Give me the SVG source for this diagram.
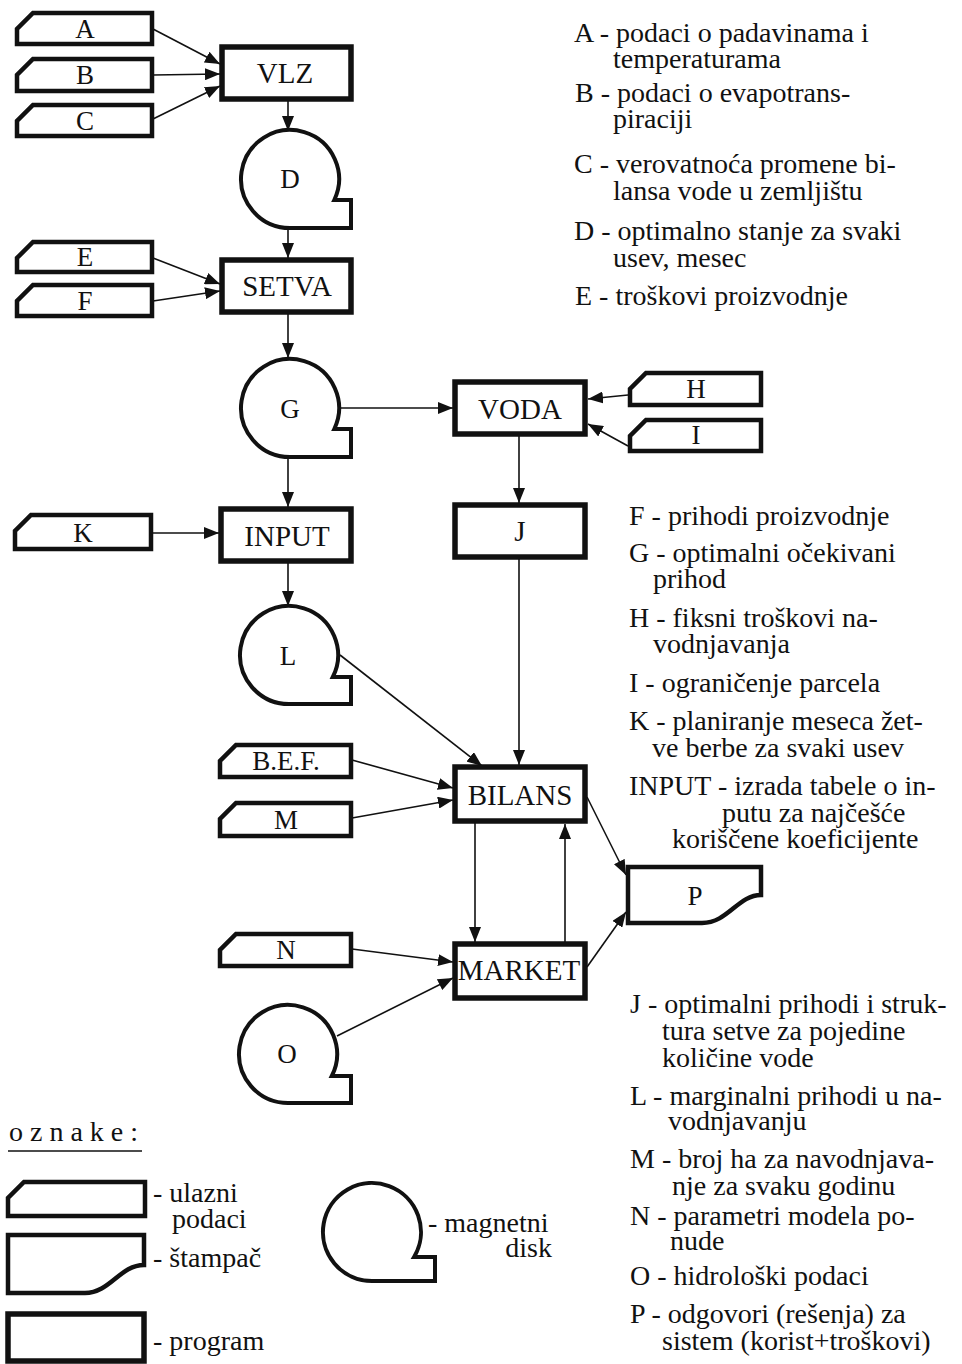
<svg xmlns="http://www.w3.org/2000/svg" width="962" height="1364" viewBox="0 0 962 1364">
<style>
.card{fill:#fff;stroke:#111;stroke-width:4.5;stroke-linejoin:miter}
.prog{fill:#fff;stroke:#111;stroke-width:5.5}
.disk{fill:#fff;stroke:#111;stroke-width:4}
.prt{fill:#fff;stroke:#111;stroke-width:4.5}
.con{fill:none;stroke:#111;stroke-width:1.6;marker-end:url(#ah)}
text{font-family:"Liberation Serif","Times New Roman",serif;fill:#111}
.lbl{font-size:27px;text-anchor:middle}
.plbl{font-size:29px;text-anchor:middle}
.note{font-size:28px}
</style>
<defs>
<marker id="ah" viewBox="0 0 15 12" refX="15" refY="6" markerWidth="15" markerHeight="12" markerUnits="userSpaceOnUse" orient="auto">
<path d="M0,0 L15,6 L0,12 Z" fill="#111"/>
</marker>
</defs>
<rect width="962" height="1364" fill="#fff"/>

<g id="connectors">
<line class="con" x1="153" y1="29" x2="220" y2="64"/>
<line class="con" x1="153" y1="75" x2="220" y2="74"/>
<line class="con" x1="153" y1="119" x2="220" y2="86"/>
<line class="con" x1="288" y1="100" x2="288" y2="131"/>
<line class="con" x1="288" y1="229" x2="288" y2="258"/>
<line class="con" x1="153" y1="258" x2="220" y2="284"/>
<line class="con" x1="153" y1="301" x2="220" y2="291"/>
<line class="con" x1="288" y1="313" x2="288" y2="358"/>
<line class="con" x1="340" y1="408" x2="453" y2="408"/>
<line class="con" x1="628" y1="395" x2="588" y2="399"/>
<line class="con" x1="628" y1="446" x2="588" y2="424"/>
<line class="con" x1="519" y1="435" x2="519" y2="503"/>
<line class="con" x1="288" y1="458" x2="288" y2="507"/>
<line class="con" x1="152" y1="533" x2="219" y2="533"/>
<line class="con" x1="288" y1="562" x2="288" y2="606"/>
<line class="con" x1="340" y1="655" x2="482" y2="766"/>
<line class="con" x1="519" y1="558" x2="519" y2="765"/>
<line class="con" x1="352" y1="760" x2="453" y2="788"/>
<line class="con" x1="352" y1="818" x2="453" y2="800"/>
<line class="con" x1="475" y1="823" x2="475" y2="942"/>
<line class="con" x1="565" y1="943" x2="565" y2="824"/>
<line class="con" x1="587" y1="797" x2="626" y2="875"/>
<line class="con" x1="587" y1="967" x2="626" y2="912"/>
<line class="con" x1="352" y1="949" x2="453" y2="962"/>
<line class="con" x1="337" y1="1036" x2="453" y2="978"/>
</g>

<g id="node-A"><path class="card" d="M33,13 H152 V44 H17 V29 Z"/><text class="lbl" x="85" y="38">A</text></g>
<g id="node-B"><path class="card" d="M33,59 H152 V91 H17 V75 Z"/><text class="lbl" x="85" y="84">B</text></g>
<g id="node-C"><path class="card" d="M33,105 H152 V136 H17 V121 Z"/><text class="lbl" x="85" y="130">C</text></g>
<g id="node-VLZ"><rect class="prog" x="222" y="47" width="129" height="52"/><text class="plbl" x="285" y="83">VLZ</text></g>
<g id="node-D"><path class="disk" d="M290,228 A49,49 0 1 1 334.3,200 H351 V228 Z"/><text class="lbl" x="290" y="188">D</text></g>
<g id="node-E"><path class="card" d="M33,242 H152 V272 H17 V258 Z"/><text class="lbl" x="85" y="266">E</text></g>
<g id="node-F"><path class="card" d="M33,285 H152 V316 H17 V301 Z"/><text class="lbl" x="85" y="310">F</text></g>
<g id="node-SETVA"><rect class="prog" x="222" y="260" width="129" height="52"/><text class="plbl" x="287" y="296">SETVA</text></g>
<g id="node-G"><path class="disk" d="M290,457 A49,49 0 1 1 334.3,429 H351 V457 Z"/><text class="lbl" x="290" y="418">G</text></g>
<g id="node-VODA"><rect class="prog" x="455" y="382" width="130" height="52"/><text class="plbl" x="520" y="419">VODA</text></g>
<g id="node-H"><path class="card" d="M646,373 H761 V405 H630 V389 Z"/><text class="lbl" x="696" y="398">H</text></g>
<g id="node-I"><path class="card" d="M646,420 H761 V451 H630 V436 Z"/><text class="lbl" x="696" y="444">I</text></g>
<g id="node-J"><rect class="prog" x="455" y="505" width="130" height="52"/><text class="plbl" x="520" y="541">J</text></g>
<g id="node-K"><path class="card" d="M31,515 H151 V549 H15 V531 Z"/><text class="lbl" x="83" y="542">K</text></g>
<g id="node-INPUT"><rect class="prog" x="221" y="509" width="130" height="52"/><text class="plbl" x="287" y="546">INPUT</text></g>
<g id="node-L"><path class="disk" d="M289,704 A49,49 0 1 1 332.8,677 H351 V704 Z"/><text class="lbl" x="288" y="665">L</text></g>
<g id="node-BEF"><path class="card" d="M236,745 H351 V777 H220 V761 Z"/><text class="lbl" x="286" y="770">B.E.F.</text></g>
<g id="node-M"><path class="card" d="M236,803 H351 V836 H220 V819 Z"/><text class="lbl" x="286" y="829">M</text></g>
<g id="node-BILANS"><rect class="prog" x="455" y="767" width="130" height="54"/><text class="plbl" x="520" y="805">BILANS</text></g>
<g id="node-P"><path class="prt" d="M628,867 H761 V895 C738,895 728,923 702,923 H628 Z"/><text class="lbl" x="695" y="905">P</text></g>
<g id="node-N"><path class="card" d="M236,934 H351 V966 H220 V950 Z"/><text class="lbl" x="286" y="959">N</text></g>
<g id="node-MARKET"><rect class="prog" x="455" y="944" width="130" height="54"/><text class="plbl" x="519" y="980">MARKET</text></g>
<g id="node-O"><path class="disk" d="M288,1103 A49,49 0 1 1 331.8,1076 H351 V1103 Z"/><text class="lbl" x="287" y="1063">O</text></g>

<g id="notes">
<text class="note" x="574" y="42">A - podaci o padavinama i</text>
<text class="note" x="613" y="68">temperaturama</text>
<text class="note" x="575" y="102">B - podaci o evapotrans-</text>
<text class="note" x="613" y="128">piraciji</text>
<text class="note" x="574" y="173">C - verovatnoća promene bi-</text>
<text class="note" x="613" y="200">lansa vode u zemljištu</text>
<text class="note" x="574" y="240">D - optimalno stanje za svaki</text>
<text class="note" x="613" y="267">usev, mesec</text>
<text class="note" x="575" y="305">E - troškovi proizvodnje</text>

<text class="note" x="629" y="525">F - prihodi proizvodnje</text>
<text class="note" x="629" y="562">G - optimalni očekivani</text>
<text class="note" x="653" y="588">prihod</text>
<text class="note" x="629" y="627">H - fiksni troškovi na-</text>
<text class="note" x="653" y="653">vodnjavanja</text>
<text class="note" x="629" y="692">I - ograničenje parcela</text>
<text class="note" x="629" y="730">K - planiranje meseca žet-</text>
<text class="note" x="652" y="757">ve berbe za svaki usev</text>
<text class="note" x="629" y="795">INPUT - izrada tabele o in-</text>
<text class="note" x="722" y="822">putu za najčešće</text>
<text class="note" x="672" y="848">koriščene koeficijente</text>

<text class="note" x="630" y="1013">J - optimalni prihodi i struk-</text>
<text class="note" x="662" y="1040">tura setve za pojedine</text>
<text class="note" x="662" y="1067">količine vode</text>
<text class="note" x="630" y="1105">L - marginalni prihodi u na-</text>
<text class="note" x="668" y="1130">vodnjavanju</text>
<text class="note" x="630" y="1168">M - broj ha za navodnjava-</text>
<text class="note" x="672" y="1195">nje za svaku godinu</text>
<text class="note" x="630" y="1225">N - parametri modela po-</text>
<text class="note" x="670" y="1250">nude</text>
<text class="note" x="630" y="1285">O - hidrološki podaci</text>
<text class="note" x="630" y="1323">P - odgovori (rešenja) za</text>
<text class="note" x="662" y="1350">sistem (korist+troškovi)</text>
</g>

<g id="legend">
<text class="note" x="9" y="1141">o z n a k e :</text>
<line x1="8" y1="1151" x2="142" y2="1151" stroke="#111" stroke-width="1.5"/>
<path class="card" d="M24,1182 H145 V1216 H8 V1198 Z"/>
<text class="note" x="153" y="1202">- ulazni</text>
<text class="note" x="172" y="1228">podaci</text>
<path class="prt" d="M8,1235 H144 V1265 C120,1265 110,1293 85,1293 H8 Z"/>
<text class="note" x="153" y="1267">- štampač</text>
<rect class="prog" x="8" y="1314" width="136" height="47"/>
<text class="note" x="153" y="1350">- program</text>
<path class="disk" d="M372,1281 A49,49 0 1 1 414.1,1257 H435 V1281 Z"/>
<text class="note" x="428" y="1232">- magnetni</text>
<text class="note" text-anchor="end" x="552" y="1257">disk</text>
</g>
</svg>
